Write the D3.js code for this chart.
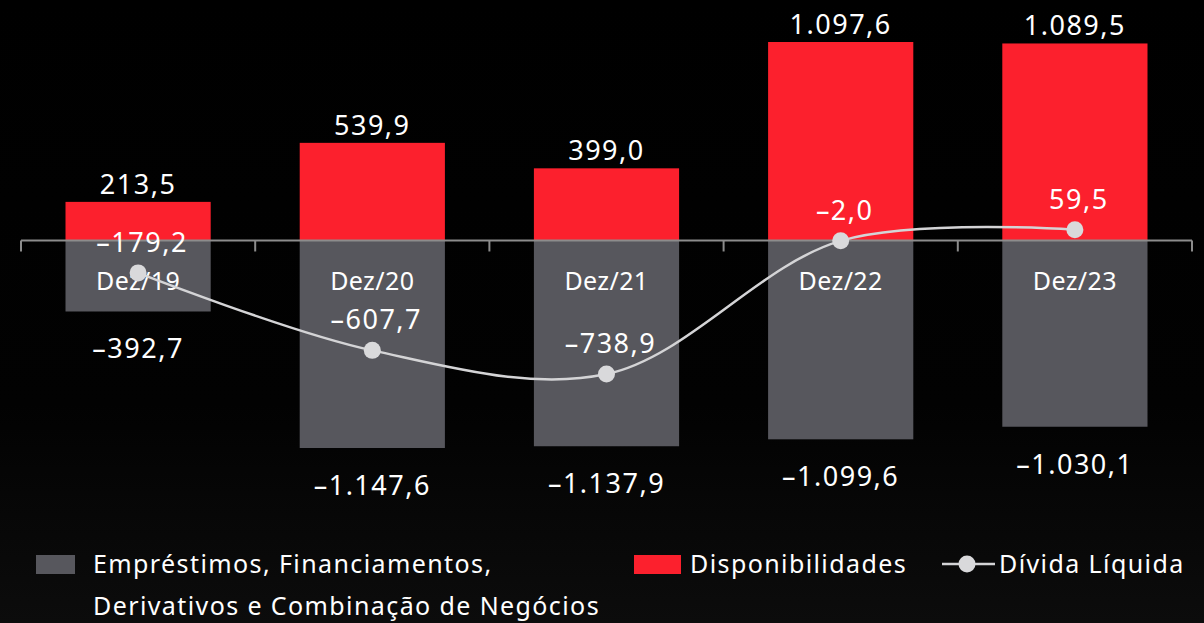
<!DOCTYPE html>
<html>
<head>
<meta charset="utf-8">
<script src="https://cdn.jsdelivr.net/npm/d3@7"></script>
<style>
  html, body { margin: 0; padding: 0; background: #000; }
  svg { display: block; font-family: "Noto Sans", sans-serif; }
</style>
</head>
<body>
<script>
var categories = [ "Dez/19", "Dez/20", "Dez/21", "Dez/22", "Dez/23" ];
var disponibilidades = [ 213.5, 539.9, 399.0, 1097.6, 1089.5 ];
var emprestimos = [ -392.7, -1147.6, -1137.9, -1099.6, -1030.1 ];
var dividaLiquida = [ -179.2, -607.7, -738.9, -2.0, 59.5 ];

var width = 1204, height = 623;
var fmt = d3.formatLocale({ decimal: ",", thousands: ".", grouping: [3], currency: ["", ""], minus: "\u2013" }).format(",.1f");

var svg = d3.select( "body" )
            .append( "svg" )
              .attr( "width", width )
              .attr( "height", height );

// faint dark backdrop at the bottom (city image in the original)
var defs = svg.append( "defs" );
var grad = defs.append( "linearGradient" )
  .attr( "id", "bg" ).attr( "x1", 0 ).attr( "y1", 0 ).attr( "x2", 0 ).attr( "y2", 1 );
grad.append( "stop" ).attr( "offset", "0%" ).attr( "stop-color", "#000" );
grad.append( "stop" ).attr( "offset", "65%" ).attr( "stop-color", "#020202" );
grad.append( "stop" ).attr( "offset", "100%" ).attr( "stop-color", "#0c0c0c" );
svg.append( "rect" ).attr( "width", width ).attr( "height", height ).attr( "fill", "url(#bg)" );

var x = d3.scaleBand()
  .domain( categories )
  .range( [ 21, 1192 ] )
  .paddingInner( 0.38 )
  .paddingOuter( 0.19 );

var y = d3.scaleLinear()
  .domain( [ -1147.6, 1097.6 ] )
  .range( [ 448, 42 ] );

var red = "#fc202d", grey = "#57575d";
var cx = function(d,i){ return x( categories[i] ) + x.bandwidth() / 2; };

// red bars
svg.selectAll( "rect.disp" )
  .data( disponibilidades )
  .enter().append( "rect" )
    .attr( "class", "disp" )
    .attr( "x", function(d,i){ return x( categories[i] ); })
    .attr( "width", x.bandwidth() )
    .attr( "y", function(d){ return y( d ); })
    .attr( "height", function(d){ return y( 0 ) - y( d ); })
    .attr( "fill", red );

// grey bars
svg.selectAll( "rect.emp" )
  .data( emprestimos )
  .enter().append( "rect" )
    .attr( "class", "emp" )
    .attr( "x", function(d,i){ return x( categories[i] ); })
    .attr( "width", x.bandwidth() )
    .attr( "y", y( 0 ) )
    .attr( "height", function(d){ return y( d ) - y( 0 ); })
    .attr( "fill", grey );

// axis line with ticks at the band boundaries
var axis = svg.append( "g" ).attr( "stroke", "#8c8c8c" ).attr( "stroke-width", 2 ).attr( "fill", "none" );
axis.append( "line" )
  .attr( "x1", x.range()[0] ).attr( "x2", x.range()[1] )
  .attr( "y1", y( 0 ) ).attr( "y2", y( 0 ) );
axis.selectAll( "line.tick" )
  .data( d3.range( categories.length + 1 ) )
  .enter().append( "line" )
    .attr( "x1", function(i){ return x.range()[0] + i * x.step(); })
    .attr( "x2", function(i){ return x.range()[0] + i * x.step(); })
    .attr( "y1", y( 0 ) )
    .attr( "y2", y( 0 ) + 11 );

// category labels
svg.selectAll( "text.cat" )
  .data( categories )
  .enter().append( "text" )
    .attr( "x", cx )
    .attr( "y", y( 0 ) + 50 )
    .attr( "text-anchor", "middle" )
    .attr( "fill", "#fff" )
    .attr( "font-size", 25 )
    .attr( "letter-spacing", 0.4 )
    .text( function(d){ return d; });

// value labels
function valueLabels( cls, data, dy ){
  svg.selectAll( "text." + cls )
    .data( data )
    .enter().append( "text" )
      .attr( "class", cls )
      .attr( "x", cx )
      .attr( "y", dy )
      .attr( "text-anchor", "middle" )
      .attr( "fill", "#fff" )
      .attr( "font-size", 27 )
      .attr( "letter-spacing", 1.5 )
      .text( function(d){ return fmt( d ); });
}
valueLabels( "disp", disponibilidades, function(d){ return y( d ) - 8; });
valueLabels( "emp", emprestimos, function(d){ return y( d ) + 47; });

// net debt line
var line = d3.line()
  .x( cx )
  .y( function(d){ return y( d ); })
  .curve( d3.curveCatmullRom.alpha( 0.5 ) );

svg.append( "path" )
  .datum( dividaLiquida )
  .attr( "d", line )
  .attr( "fill", "none" )
  .attr( "stroke", "#d4d4d6" )
  .attr( "stroke-width", 2.5 );

svg.selectAll( "circle.dl" )
  .data( dividaLiquida )
  .enter().append( "circle" )
    .attr( "cx", cx )
    .attr( "cy", function(d){ return y( d ); })
    .attr( "r", 8.5 )
    .attr( "fill", "#d9d9db" );

valueLabels( "dl", dividaLiquida, function(d){ return y( d ) - 21; });
svg.selectAll( "text.dl" ).attr( "x", function(d,i){ return cx( d, i ) + 4; });

// legend
var legend = svg.append( "g" ).attr( "fill", "#fff" ).attr( "font-size", 25 ).attr( "letter-spacing", 1.4 );
legend.append( "rect" ).attr( "x", 36 ).attr( "y", 555 ).attr( "width", 39 ).attr( "height", 19 ).attr( "fill", grey );
legend.append( "text" ).attr( "x", 93 ).attr( "y", 573 ).text( "Empréstimos, Financiamentos," );
legend.append( "text" ).attr( "x", 93 ).attr( "y", 615 ).text( "Derivativos e Combinação de Negócios" );
legend.append( "rect" ).attr( "x", 634 ).attr( "y", 555 ).attr( "width", 47 ).attr( "height", 19 ).attr( "fill", red );
legend.append( "text" ).attr( "x", 690 ).attr( "y", 573 ).text( "Disponibilidades" );
legend.append( "line" ).attr( "x1", 942 ).attr( "x2", 995 ).attr( "y1", 564 ).attr( "y2", 564 )
  .attr( "stroke", "#d4d4d6" ).attr( "stroke-width", 2.5 );
legend.append( "circle" ).attr( "cx", 967 ).attr( "cy", 564 ).attr( "r", 8.5 ).attr( "fill", "#d9d9db" );
legend.append( "text" ).attr( "x", 999 ).attr( "y", 573 ).text( "Dívida Líquida" );
</script>
</body>
</html>
